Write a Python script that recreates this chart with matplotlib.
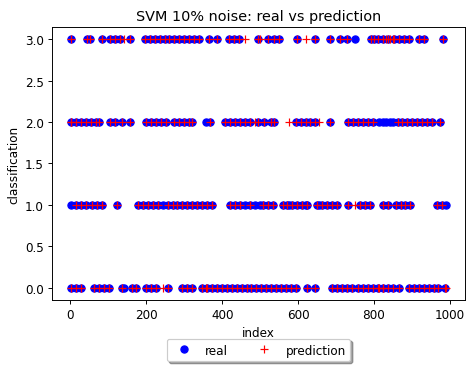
import matplotlib
matplotlib.use("Agg")
import matplotlib.pyplot as plt
import numpy as np

# indices of test samples per real class
real0 = [1, 14, 27, 62, 75, 88, 101, 135, 140, 161, 174, 200, 213, 226, 256, 295,
         308, 321, 347, 360, 373, 386, 399, 412, 425, 438, 451, 464, 477, 490, 503,
         516, 529, 542, 555, 568, 581, 594, 624, 645, 689, 702, 715, 728, 741, 758,
         771, 784, 797, 810, 823, 836, 849, 866, 892, 905, 918, 931, 944, 957, 970, 987]
real1 = [1, 14, 27, 40, 57, 70, 84, 123, 178, 191, 204, 217, 230, 243, 256, 269, 282,
         295, 308, 321, 334, 347, 360, 373, 421, 434, 447, 460, 473, 486, 499, 507,
         520, 533, 559, 572, 576, 585, 598, 611, 620, 624, 650, 654, 663, 676, 689,
         702, 732, 763, 776, 789, 823, 836, 857, 870, 883, 896, 965, 978, 991]
real2 = [1, 14, 27, 40, 53, 66, 75, 105, 118, 135, 157, 200, 213, 226, 239, 252, 274,
         287, 300, 313, 321, 356, 369, 408, 421, 434, 447, 460, 473, 494, 511, 529,
         537, 594, 607, 620, 632, 645, 684, 732, 745, 758, 771, 784, 797, 814, 823,
         832, 841, 850, 862, 875, 888, 901, 914, 927, 940, 953, 974]
real3 = [1, 43, 52, 84, 105, 118, 131, 157, 196, 209, 222, 235, 248, 261, 274, 287,
         300, 313, 326, 339, 365, 386, 417, 430, 443, 494, 520, 537, 550, 598, 645,
         684, 710, 728, 749, 792, 801, 810, 823, 836, 853, 866, 879, 892, 918, 931, 983]

# misclassified samples: (index, real class, predicted class)
errors = [(140, 0, 3), (460, 1, 3), (620, 1, 3), (841, 2, 3), (486, 1, 2),
          (576, 1, 2), (654, 1, 2), (749, 3, 1), (243, 1, 0), (1, 1, 2),
          (499, 1, 3), (991, 1, 0), (814, 2, 0), (823, 2, 0), (832, 2, 3),
          (850, 2, 3), (356, 2, 0)]

index, real = [], []
for cls, idx in enumerate([real0, real1, real2, real3]):
    index += idx
    real += [cls] * len(idx)
index = np.array(index)
real = np.array(real, dtype=float)
prediction = real.copy()
for i, r, p in errors:
    mask = (index == i) & (real == r)
    prediction[mask] = p

DPI = 86
fig = plt.figure(figsize=(469 / DPI, 368 / DPI), dpi=DPI)
ax = fig.add_axes([0.111, 0.182, 0.881, 0.742])
ax.plot(index, real, "bo", label="real")
ax.plot(index, prediction, "r+", label="prediction")
ax.set_title("SVM 10% noise: real vs prediction")
ax.set_xlabel("index")
ax.set_ylabel("classification")
ax.legend(loc="upper center", bbox_to_anchor=(0.5, -0.12), fancybox=True,
          shadow=True, ncol=2)
fig.savefig("out.png", dpi=DPI)
